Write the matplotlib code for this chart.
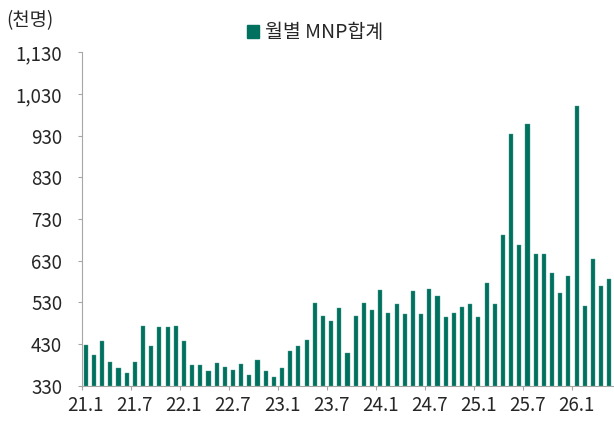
import matplotlib
matplotlib.use("Agg")
import matplotlib.pyplot as plt
from matplotlib.patches import Patch
import numpy as np

plt.rcParams['font.family'] = ['Noto Sans CJK KR', 'DejaVu Sans']

# monthly MNP totals (thousand people), 21.1 ~ 26.5
values = [428, 403, 437, 387, 372, 360, 386, 473, 424, 471, 471, 474,
          438, 379, 379, 366, 384, 375, 367, 383, 355, 392, 364, 351,
          372, 413, 425, 440, 528, 497, 485, 517, 408, 497, 528, 512,
          560, 505, 526, 502, 557, 503, 562, 545, 495, 504, 518, 525,
          495, 576, 526, 692, 934, 668, 958, 646, 646, 600, 552, 594,
          1001, 521, 634, 568, 585]
tick_labels = ['21.1', '21.7', '22.1', '22.7', '23.1', '23.7',
               '24.1', '24.7', '25.1', '25.7', '26.1']
yticks = [330, 430, 530, 630, 730, 830, 930, 1030, 1130]

bar_color = '#00705f'
axis_color = '#a6a6a6'
text_color = '#262626'

fig = plt.figure(figsize=(6.14, 4.21), dpi=100)
ax = fig.add_axes([0.133, 0.084, 0.866, 0.792])

x = np.arange(len(values))
ax.bar(x, np.array(values) - 330, bottom=330, width=0.5, color=bar_color,
       edgecolor='#4f9f92', linewidth=0.3)

ax.set_xlim(-0.5, len(values) - 0.5)
ax.set_ylim(330, 1130)

ax.set_yticks(yticks)
ax.set_yticklabels([f'{v:,}' for v in yticks], fontsize=13.5, color=text_color)
ax.tick_params(axis='y', length=3, width=0.8, color=axis_color, pad=11)

# labels centred on the month, tick marks on the month boundary
ax.set_xticks(np.arange(0, len(values), 6))
ax.set_xticklabels(tick_labels, fontsize=13.5, color=text_color)
ax.tick_params(axis='x', length=0, pad=7)
ax.set_xticks(np.arange(-0.5, len(values), 6), minor=True)
ax.tick_params(axis='x', which='minor', length=3, width=0.8, color=axis_color)

for side in ['top', 'right']:
    ax.spines[side].set_visible(False)
for side in ['left', 'bottom']:
    ax.spines[side].set_color(axis_color)
    ax.spines[side].set_linewidth(0.8)

fig.text(0.01, 0.952, '(천명)', fontsize=13.5, color=text_color, va='center')
fig.legend(handles=[Patch(color=bar_color, label='월별 MNP합계')],
           loc='center', bbox_to_anchor=(0.513, 0.922), frameon=False,
           fontsize=14, handlelength=0.6, handleheight=0.6, handletextpad=0.3,
           labelcolor=text_color)

fig.savefig('out.png', dpi=100)
